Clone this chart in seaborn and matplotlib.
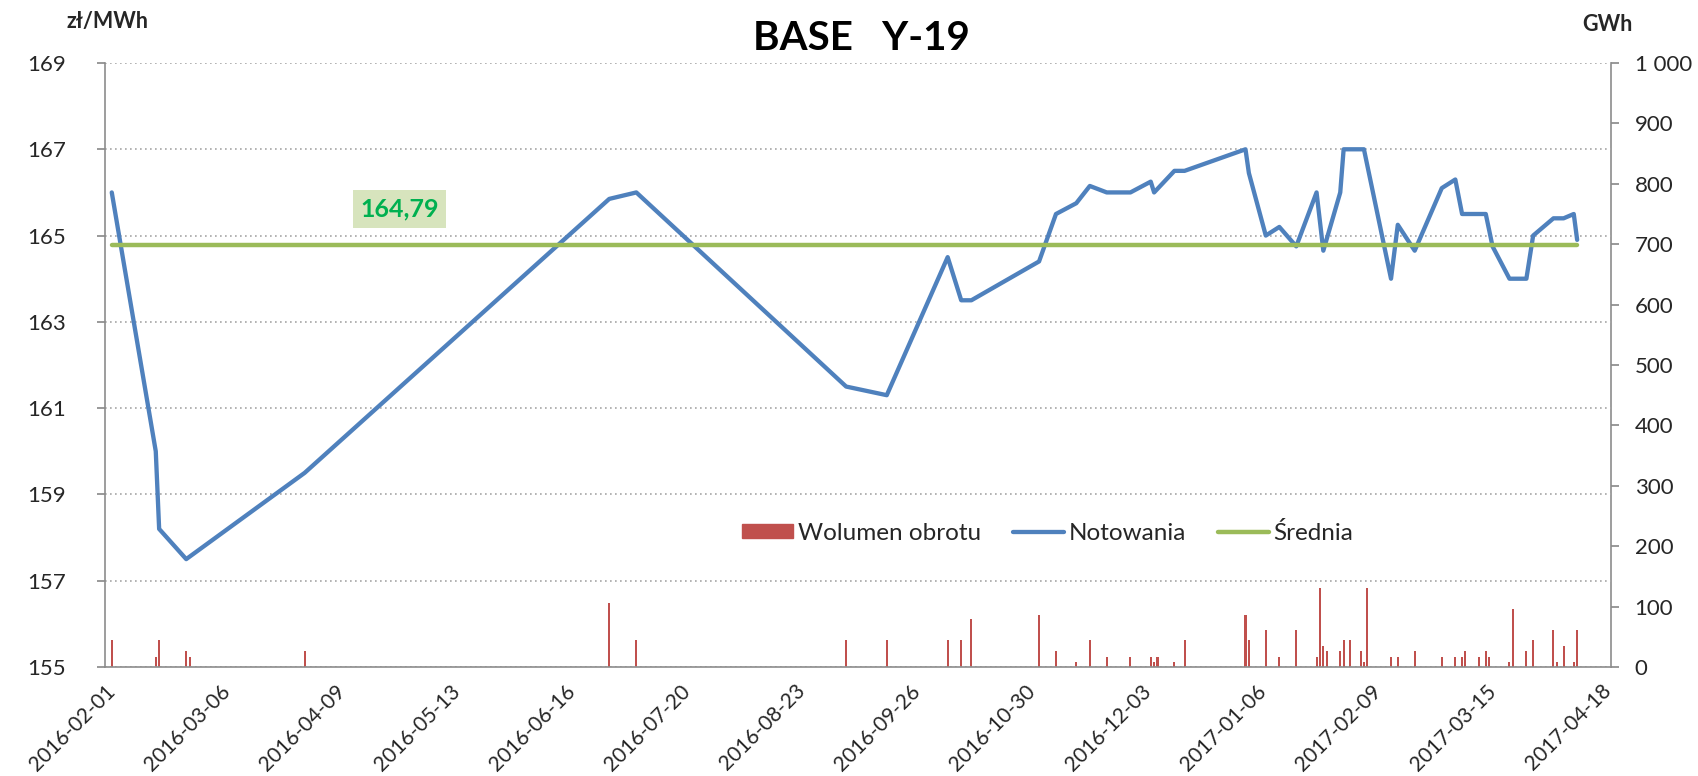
import matplotlib
matplotlib.use("Agg")
import matplotlib.pyplot as plt
import matplotlib.ticker as mticker
import matplotlib.patches as mpatches
import pandas as pd
import seaborn as sns

# Notowania (zł/MWh)
price_dates = [
    "2016-02-03", "2016-02-16", "2016-02-17", "2016-02-25", "2016-03-31",
    "2016-06-29", "2016-07-07", "2016-09-07", "2016-09-19", "2016-10-07",
    "2016-10-11", "2016-10-14", "2016-11-03", "2016-11-08", "2016-11-14",
    "2016-11-18", "2016-11-23", "2016-11-30", "2016-12-06", "2016-12-07",
    "2016-12-13", "2016-12-16", "2017-01-03", "2017-01-04", "2017-01-09",
    "2017-01-13", "2017-01-18", "2017-01-24", "2017-01-26", "2017-01-31",
    "2017-02-01", "2017-02-07", "2017-02-15", "2017-02-17", "2017-02-22",
    "2017-03-02", "2017-03-06", "2017-03-08", "2017-03-15", "2017-03-17",
    "2017-03-22", "2017-03-27", "2017-03-29", "2017-04-04", "2017-04-07",
    "2017-04-10", "2017-04-11",
]
price_values = [
    166.0, 160.0, 158.2, 157.5, 159.5,
    165.85, 166.0, 161.5, 161.3, 164.5,
    163.5, 163.5, 164.4, 165.5, 165.75,
    166.15, 166.0, 166.0, 166.25, 166.0,
    166.5, 166.5, 167.0, 166.45, 165.0,
    165.2, 164.75, 166.0, 164.65, 166.0,
    167.0, 167.0, 164.0, 165.25, 164.65,
    166.1, 166.3, 165.5, 165.5, 164.75,
    164.0, 164.0, 165.0, 165.4, 165.4,
    165.5, 164.9,
]

# Wolumen obrotu (GWh)
volume_dates = [
    "2016-02-03", "2016-02-16", "2016-02-17", "2016-02-25", "2016-02-26",
    "2016-03-31", "2016-06-29", "2016-07-07", "2016-09-07", "2016-09-19",
    "2016-10-07", "2016-10-11", "2016-10-14", "2016-11-03", "2016-11-08",
    "2016-11-14", "2016-11-18", "2016-11-23", "2016-11-30", "2016-12-06",
    "2016-12-07", "2016-12-08", "2016-12-13", "2016-12-16", "2017-01-03",
    "2017-01-04", "2017-01-09", "2017-01-13", "2017-01-18", "2017-01-24",
    "2017-01-25", "2017-01-26", "2017-01-27", "2017-01-31", "2017-02-01",
    "2017-02-03", "2017-02-06", "2017-02-07", "2017-02-08", "2017-02-15",
    "2017-02-17", "2017-02-22", "2017-03-02", "2017-03-06", "2017-03-08",
    "2017-03-09", "2017-03-13", "2017-03-15", "2017-03-16", "2017-03-22",
    "2017-03-23", "2017-03-27", "2017-03-29", "2017-04-04", "2017-04-05",
    "2017-04-07", "2017-04-10", "2017-04-11",
]
volume_values = [
    45, 17, 45, 26, 17,
    26, 106, 45, 45, 45,
    45, 45, 79, 86, 26,
    9, 45, 17, 17, 17,
    9, 17, 9, 45, 86,
    45, 61, 17, 61, 17,
    130, 34, 26, 26, 45,
    45, 26, 9, 130, 17,
    17, 26, 17, 17, 17,
    26, 17, 26, 17, 9,
    96, 26, 45, 61, 9,
    34, 9, 61,
]

average_price = 164.79

series_labels = ["Wolumen obrotu", "Notowania", "Średnia"]
tick_start, tick_step_days, tick_count = "2016-02-01", 34, 14

BLUE = "#4F81BD"
RED = "#C0504D"
GREEN = "#9BBB59"
TEXT = "#262626"
AXIS = "#8C8C8C"

sns.set_theme(style="white")
plt.rcParams["font.family"] = ["Lato", "DejaVu Sans"]

prices = pd.DataFrame({"data": pd.to_datetime(price_dates), "cena": price_values})
volumes = pd.DataFrame({"data": pd.to_datetime(volume_dates), "wolumen": volume_values})
avg = pd.DataFrame({
    "data": [prices["data"].iloc[0], prices["data"].iloc[-1]],
    "cena": [average_price, average_price],
})

fig = plt.figure(figsize=(16.99, 7.76), dpi=100)
ax = fig.add_axes([0.0618, 0.1405, 0.8864, 0.7783])
ax2 = ax.twinx()

# volume bars on the secondary axis, drawn underneath the price lines
ax2.bar(volumes["data"], volumes["wolumen"], width=0.6, color=RED, linewidth=0)
ax.set_zorder(ax2.get_zorder() + 1)
ax.patch.set_visible(False)

sns.lineplot(data=prices, x="data", y="cena", ax=ax, color=BLUE, linewidth=3.1,
             legend=False)
sns.lineplot(data=avg, x="data", y="cena", ax=ax, color=GREEN, linewidth=3.2,
             legend=False)

# date axis
start = pd.Timestamp(tick_start)
ticks = [start + pd.Timedelta(days=tick_step_days * i) for i in range(tick_count)]
ax.set_xlim(start, pd.Timestamp("2017-04-21"))
ax.set_xticks(ticks)
ax.set_xticklabels([t.strftime("%Y-%m-%d") for t in ticks], rotation=45,
                   ha="right", rotation_mode="anchor", fontsize=15, color=TEXT)

ax.set_ylim(155, 169)
ax.set_yticks(range(155, 170, 2))
ax.tick_params(axis="y", labelsize=16, colors=TEXT, length=6, color=AXIS,
               direction="out", pad=22)
ax.tick_params(axis="x", length=7, color=AXIS, direction="out", pad=3)
ax.set_xlabel("")
ax.set_ylabel("")
ax.yaxis.grid(True, linestyle=(0, (1, 2)), color="#A6A6A6", linewidth=1.2)
ax.xaxis.grid(False)

ax2.set_ylim(0, 1000)
ax2.set_yticks(range(0, 1001, 100))
ax2.yaxis.set_major_formatter(
    mticker.FuncFormatter(lambda v, _: f"{int(v):,}".replace(",", " ")))
ax2.tick_params(axis="y", labelsize=16, colors=TEXT, length=6, color=AXIS,
                direction="out", pad=11)
ax2.grid(False)

for side in ["top", "right"]:
    ax.spines[side].set_visible(False)
for side in ["top", "left", "bottom"]:
    ax2.spines[side].set_visible(False)
for sp in [ax.spines["left"], ax.spines["bottom"], ax2.spines["right"]]:
    sp.set_color(AXIS)
    sp.set_linewidth(1.2)

# average value label
ax.text(pd.Timestamp("2016-04-28"), 165.62,
        f"{average_price:.2f}".replace(".", ","),
        ha="center", va="center", fontsize=18, fontweight="bold", color="#00B050",
        bbox=dict(boxstyle="square,pad=0.3", facecolor="#D7E4BD", edgecolor="none"))

handles = [
    mpatches.Patch(color=RED),
    plt.Line2D([], [], color=BLUE, linewidth=3.1),
    plt.Line2D([], [], color=GREEN, linewidth=3.2),
]
ax.legend(handles, series_labels, loc="center", bbox_to_anchor=(0.626, 0.222),
          ncol=3, frameon=False, fontsize=17.5, handlelength=2.1, handleheight=0.5,
          columnspacing=1.3, handletextpad=0.2)

fig.text(0.507, 0.951, "BASE   Y-19", ha="center", va="center", fontsize=29,
         fontweight="bold", color="black")
fig.text(0.039, 0.972, "zł/MWh", ha="left", va="center", fontsize=15.5,
         fontweight="bold", color=TEXT)
fig.text(0.946, 0.968, "GWh", ha="center", va="center", fontsize=15.5,
         fontweight="bold", color=TEXT)

fig.savefig("out.png", dpi=100)
